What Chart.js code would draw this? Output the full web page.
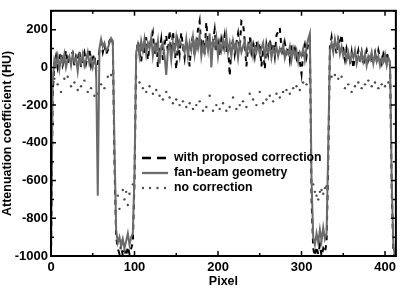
<!DOCTYPE html>
<html>
<head>
<meta charset="utf-8">
<script src="https://cdn.jsdelivr.net/npm/chart.js@4.4.0/dist/chart.umd.min.js"></script>
<style>
  html, body { margin: 0; padding: 0; background: #fff; }
</style>
</head>
<body>
<canvas id="profileChart" width="400" height="289"></canvas>
<script>
// detector pixel positions (every 2nd pixel)
const pixelX = [
  0, 2, 4, 6, 8, 10, 12, 14, 16, 18,
  20, 22, 24, 26, 28, 30, 32, 34, 36, 38,
  40, 42, 44, 46, 48, 50, 52, 54, 56, 58,
  60, 62, 64, 66, 68, 70, 72, 74, 76, 78,
  80, 82, 84, 86, 88, 90, 92, 94, 96, 98,
  100, 102, 104, 106, 108, 110, 112, 114, 116, 118,
  120, 122, 124, 126, 128, 130, 132, 134, 136, 138,
  140, 142, 144, 146, 148, 150, 152, 154, 156, 158,
  160, 162, 164, 166, 168, 170, 172, 174, 176, 178,
  180, 182, 184, 186, 188, 190, 192, 194, 196, 198,
  200, 202, 204, 206, 208, 210, 212, 214, 216, 218,
  220, 222, 224, 226, 228, 230, 232, 234, 236, 238,
  240, 242, 244, 246, 248, 250, 252, 254, 256, 258,
  260, 262, 264, 266, 268, 270, 272, 274, 276, 278,
  280, 282, 284, 286, 288, 290, 292, 294, 296, 298,
  300, 302, 304, 306, 308, 310, 312, 314, 316, 318,
  320, 322, 324, 326, 328, 330, 332, 334, 336, 338,
  340, 342, 344, 346, 348, 350, 352, 354, 356, 358,
  360, 362, 364, 366, 368, 370, 372, 374, 376, 378,
  380, 382, 384, 386, 388, 390, 392, 394, 396, 398,
  400, 402, 404, 406, 408, 410, 412
];

// with proposed correction (HU)
const proposedCorr = [
  -1000, -150, 20, 60, 0, 50, 80, 10, 40, 90,
  20, 50, 70, 80, 10, 60, 40, 90, 0, 50,
  80, 20, 60, 100, 10, 50, 70, -20, 20, 90,
  130, 80, 120, 70, 90, 140, 160, 130, -500, -900,
  -960, -990, -940, -1000, -970, -1000, -950, -990, -960, -930,
  -600, 60, 140, 90, 30, 120, 70, 160, 40, 110,
  150, 185, 60, 130, 0, 90, 150, 40, 120, 170,
  80, 195, 60, 190, 100, -10, 130, 70, 185, 110,
  50, 140, 90, 5, 120, 170, 60, 130, 200, 245,
  100, 150, 70, 240, 120, 160, 80, 140, 200, 90,
  130, 60, 150, 110, 170, 80, 120, -45, 100, 150,
  70, 130, 180, 100, 245, 235, 140, 5, 110, 160,
  80, 120, 60, 140, 90, 130, 5, 100, -10, 120,
  70, 150, 90, 130, 60, 170, 190, 210, 100, 60,
  130, 80, 110, 40, 120, 70, 100, 50, 90, 30,
  -35, 80, 120, 60, 130, 150, -700, -960, -1000, -950,
  -990, -940, -1000, -960, -980, -930, -500, 110, 160, 90,
  130, 70, 150, 120, 175, 90, 40, 100, 60, 20,
  80, -5, 70, 50, 90, 30, 80, 10, 60, 90,
  40, 70, 20, 45, 80, 30, 90, 50, 20, 70,
  40, 80, 45, 10, -650, -980, -1000
];

// fan-beam geometry (HU)
const fanBeam = [
  -1000, -80, 40, 10, 60, -10, 50, 20, 70, 0,
  40, 60, 10, 70, 30, 50, -20, 60, 20, 70,
  10, 40, 80, 20, 50, 0, 40, 10, -680, 100,
  150, 110, 130, 90, 100, 130, 155, 140, -420, -860,
  -930, -900, -950, -910, -960, -920, -880, -940, -900, -880,
  -560, 80, 120, 60, 140, 90, 150, 70, 130, 100,
  160, 60, 120, 80, 140, 20, 110, 130, 60, -40,
  90, 120, 40, 130, 80, 160, 100, 140, 120, 120,
  80, 150, 60, 130, 90, 160, 70, 140, 100, 170,
  60, 120, 80, 150, 90, 180, 0, 140, 110, 160,
  60, 130, 90, 150, 100, 170, 80, 130, 60, 140,
  90, 120, 50, 130, 80, 110, 140, 70, 120, 90,
  130, 60, 110, 80, 120, 70, 100, 130, 60, 110,
  80, 120, 50, 100, 70, 110, 60, 100, 80, 120,
  50, 90, 70, 110, 40, 100, 60, 90, 30, 80,
  60, 100, 40, 110, 150, 180, -600, -900, -940, -880,
  -930, -860, -920, -850, -910, -880, -420, 90, 130, 80,
  150, 100, 140, 70, 110, 60, 90, 40, 80, 30,
  70, 50, 90, 20, 60, 40, 80, 30, 70, 10,
  60, 40, 80, 20, 70, 30, 60, 10, 50, 30,
  70, 10, 50, 30, -600, -950, -1000
];

// no correction (HU), dotted
const noCorrX = [
  4, 8, 12, 16, 20, 24, 28, 32, 36, 40, 44, 48, 52,
  56, 60, 64, 68, 72,
  80, 82, 86, 88, 90, 92, 94, 98,
  102, 106, 110, 114, 118, 122, 126, 130, 134, 138, 142, 146, 150, 154, 158, 162, 166, 170,
  174, 178, 182, 186, 190, 194, 198, 202, 206, 210, 214, 218, 222, 226, 230, 234, 238,
  242, 246, 250, 254, 258, 262, 266, 270, 274, 278, 282, 286, 290, 294, 298, 302, 306, 310,
  314, 316, 318, 320, 322, 324, 326, 328, 330,
  336, 340, 344, 348, 352, 356, 360, 364, 368, 372, 376, 380, 384, 388, 392, 396, 400, 404
];
const noCorr = [
  -60, -90, -130, -60, -50, -100, -80, -120, -100, -70, -130, -110, -150,
  -140, -90, -110, -50, -40,
  -680, -750, -650, -700, -660, -730, -670, -620,
  -50, -80, -110, -130, -100, -140, -120, -150, -170, -130, -160, -190, -170, -200, -180, -210, -190, -220,
  -200, -180, -230, -210, -150, -230, -200, -220, -190, -230, -210, -160, -220, -200, -180, -210, -140,
  -170, -200, -130, -190, -170, -150, -180, -140, -160, -130, -120, -140, -110, -100, -120, -80, -90, -60,
  -620, -660, -680, -700, -660, -650, -670, -640, -630,
  -50, -40, -60, -50, -110, -90, -130, -100, -80, -110, -90, -70, -100, -80, -110, -90, -100, -80
];

const xTickVals = [0, 100, 200, 300, 400];
const yTickVals = [-1000, -800, -600, -400, -200, 0, 200];
const seriesNames = ['with proposed correction', 'fan-beam geometry', 'no correction'];

const FONT = "'Liberation Sans', Arial, sans-serif";
const GRAY = '#6b6b6b';
const DOT = '#4a4a4a';

function toPoints(xs, ys) {
    return xs.map((x, i) => ({ x: x, y: ys[i] }));
}

// box frame with inward ticks on all four sides
const frameTicks = {
    id: 'frameTicks',
    afterDatasetsDraw(chart) {
        const { ctx, chartArea: a, scales: { x, y } } = chart;
        ctx.save();
        ctx.strokeStyle = '#000';
        ctx.lineWidth = 1.5;
        ctx.beginPath();
        for (let v = 0; v <= 400; v += 50) {
            const px = x.getPixelForValue(v);
            const len = v % 100 === 0 ? 5 : 3;
            ctx.moveTo(px, a.bottom); ctx.lineTo(px, a.bottom - len);
            ctx.moveTo(px, a.top); ctx.lineTo(px, a.top + len);
        }
        for (let v = -1000; v <= 300; v += 100) {
            const py = y.getPixelForValue(v);
            const len = v % 200 === 0 ? 5 : 3;
            ctx.moveTo(a.left, py); ctx.lineTo(a.left + len, py);
            ctx.moveTo(a.right, py); ctx.lineTo(a.right - len, py);
        }
        ctx.stroke();
        ctx.lineWidth = 2;
        ctx.strokeRect(a.left, a.top, a.right - a.left, a.bottom - a.top);
        ctx.restore();
    }
};

// legend sits inside the plot, no box
const innerLegend = {
    id: 'innerLegend',
    afterDraw(chart) {
        const ctx = chart.ctx;
        const x0 = 142, x1 = 168, tx = 174;
        const rows = [158, 173, 188];
        ctx.save();
        // dashed black
        ctx.strokeStyle = '#000';
        ctx.lineWidth = 2.3;
        ctx.setLineDash([9, 6]);
        ctx.beginPath(); ctx.moveTo(x0, rows[0]); ctx.lineTo(x1, rows[0]); ctx.stroke();
        ctx.setLineDash([]);
        // solid gray
        ctx.strokeStyle = GRAY;
        ctx.lineWidth = 2.3;
        ctx.beginPath(); ctx.moveTo(x0, rows[1]); ctx.lineTo(x1, rows[1]); ctx.stroke();
        // dots
        ctx.fillStyle = DOT;
        [143, 150, 157.5, 165].forEach(dx => {
            ctx.beginPath(); ctx.arc(dx, rows[2], 1.2, 0, Math.PI * 2); ctx.fill();
        });
        ctx.fillStyle = '#000';
        ctx.font = 'bold 12.3px ' + FONT;
        ctx.textBaseline = 'middle';
        ctx.textAlign = 'left';
        seriesNames.forEach((t, i) => ctx.fillText(t, tx, rows[i]));
        ctx.restore();
    }
};

const tickFont = { family: FONT, size: 13, weight: 'bold' };
const titleFont = { family: FONT, size: 12.5, weight: 'bold' };

const config = {
    type: 'line',
    data: {
        datasets: [
            {
                label: seriesNames[0],
                data: toPoints(pixelX, proposedCorr),
                borderColor: '#000',
                borderWidth: 2,
                borderDash: [5, 5],
                pointRadius: 0,
                tension: 0,
                order: 1
            },
            {
                label: seriesNames[1],
                data: toPoints(pixelX, fanBeam),
                borderColor: GRAY,
                borderWidth: 2,
                pointRadius: 0,
                tension: 0,
                order: 0
            },
            {
                label: seriesNames[2],
                data: toPoints(noCorrX, noCorr),
                showLine: false,
                pointRadius: 1.2,
                pointBorderWidth: 0,
                pointBackgroundColor: DOT,
                order: 2
            }
        ]
    },
    options: {
        responsive: false,
        animation: false,
        layout: { padding: { top: 3, right: 4, left: 0, bottom: 0 } },
        plugins: {
            legend: { display: false },
            tooltip: { enabled: false }
        },
        scales: {
            x: {
                type: 'linear',
                min: 0,
                max: 413,
                afterBuildTicks: s => { s.ticks = xTickVals.map(v => ({ value: v })); },
                afterFit: s => { s.height = 33; },
                grid: { display: false, drawTicks: false },
                border: { display: false },
                ticks: { padding: 4, color: '#000', font: tickFont, maxRotation: 0, callback: v => String(v) },
                title: { display: true, text: 'Pixel', color: '#000', font: titleFont, padding: 0 }
            },
            y: {
                type: 'linear',
                min: -1000,
                max: 300,
                afterBuildTicks: s => { s.ticks = yTickVals.map(v => ({ value: v })); },
                afterFit: s => { s.width = 51; },
                grid: { display: false, drawTicks: false },
                border: { display: false },
                ticks: { padding: 3, color: '#000', font: tickFont, callback: v => String(v) },
                title: { display: true, text: 'Attenuation coefficient (HU)', color: '#000', font: titleFont, padding: 0 }
            }
        }
    },
    plugins: [frameTicks, innerLegend]
};

const profileChart = new Chart(document.getElementById('profileChart').getContext('2d'), config);
</script>
</body>
</html>
